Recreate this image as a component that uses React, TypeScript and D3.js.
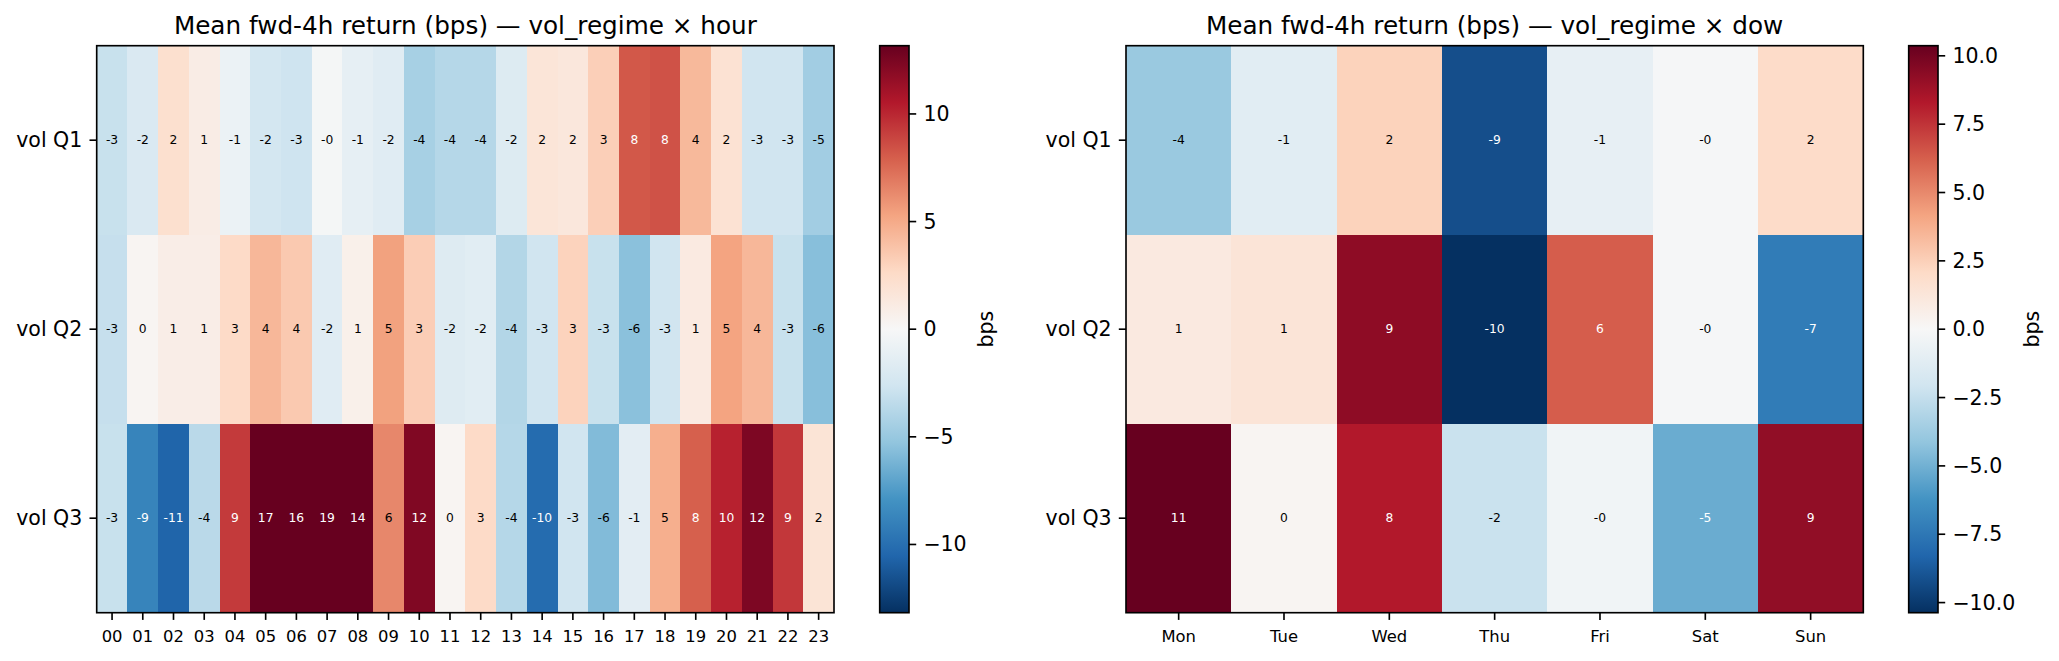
import React from 'react';
import * as d3 from 'd3';

// canvas
const W = 2059;
const H = 661;

// row / column categories
const regimes = ['vol Q1', 'vol Q2', 'vol Q3'];
const hours = ['00', '01', '02', '03', '04', '05', '06', '07', '08', '09', '10', '11',
  '12', '13', '14', '15', '16', '17', '18', '19', '20', '21', '22', '23'];
const days = ['Mon', 'Tue', 'Wed', 'Thu', 'Fri', 'Sat', 'Sun'];

// mean fwd-4h return (bps) by vol regime x hour of day
const hourQ1 = [-3.0, -2.0, 2.2, 1.0, -0.8, -2.4, -2.7, -0.2, -1.2, -1.6, -4.4, -3.8,
  -3.8, -1.8, 1.7, 1.5, 3.2, 8.2, 8.4, 4.3, 2.0, -2.6, -2.6, -4.6];
const hourQ2 = [-3.1, 0.3, 0.9, 0.9, 2.6, 4.4, 3.5, -1.6, 0.7, 5.4, 3.3, -1.7,
  -1.5, -3.9, -2.6, 3.0, -3.0, -5.5, -2.6, 1.2, 5.3, 4.4, -3.0, -5.6];
const hourQ3 = [-3.0, -8.8, -10.6, -3.6, 9.3, 16.8, 15.9, 18.9, 14.2, 6.4, 12.3, 0.3,
  2.6, -3.8, -10.2, -2.6, -5.8, -1.4, 4.8, 7.9, 10.2, 12.4, 9.4, 1.8];

// mean fwd-4h return (bps) by vol regime x day of week
const dowQ1 = [-3.9, -1.2, 2.4, -9.2, -0.9, -0.1, 2.0];
const dowQ2 = [1.0, 1.4, 9.3, -10.4, 6.3, -0.1, -7.3];
const dowQ3 = [10.9, 0.2, 8.3, -2.3, -0.4, -5.2, 9.2];

// symmetric colour limits and colorbar ticks
const hourLimit = 13.17;
const dowLimit = 10.37;
const hourTicks = [10, 5, 0, -5, -10];
const dowTicks = [10, 7.5, 5, 2.5, 0, -2.5, -5, -7.5, -10];

// RdBu_r anchors, low -> high
const rdbu = ['#053061', '#2166ac', '#4393c3', '#92c5de', '#d1e5f0', '#f7f7f7',
  '#fddbc7', '#f4a582', '#d6604d', '#b2182b', '#67001f'];

const FONT = 'DejaVu Sans, Verdana, sans-serif';
const LW = 1.64;
const TICK = 7.2;
const PAD = 7.2;

const minus = (s: string) => s.replace('-', '\u2212');

type Frame = { x0: number; x1: number; y0: number; y1: number };

function Panel(props: {
  id: string;
  title: string;
  cols: string[];
  values: number[][];
  limit: number;
  ticks: number[];
  tickFmt: (v: number) => string;
  frame: Frame;
  bar: { x0: number; x1: number };
  labelX: number;
}) {
  const { id, title, cols, values, limit, ticks, tickFmt, frame, bar, labelX } = props;

  const x = d3.scaleBand<string>().domain(cols).range([frame.x0, frame.x1]);
  const y = d3.scaleBand<string>().domain(regimes).range([frame.y0, frame.y1]);
  const color = d3.scaleLinear<string>()
    .domain(rdbu.map((_, i) => -limit + (i * 2 * limit) / (rdbu.length - 1)))
    .range(rdbu)
    .interpolate(d3.interpolateRgb)
    .clamp(true);
  const cb = d3.scaleLinear().domain([-limit, limit]).range([frame.y1, frame.y0]);

  return (
    <g>
      <defs>
        <linearGradient id={id} x1="0" y1="1" x2="0" y2="0">
          {rdbu.map((c, i) => (
            <stop key={i} offset={i / (rdbu.length - 1)} stopColor={c} />
          ))}
        </linearGradient>
      </defs>

      <text x={(frame.x0 + frame.x1) / 2} y={34} textAnchor="middle"
        fontFamily={FONT} fontSize={24.7} fill="#000">{title}</text>

      {/* cells */}
      {values.map((row, r) =>
        row.map((v, c) => {
          const cx = x(cols[c])!;
          const cy = y(regimes[r])!;
          return (
            <g key={`${r}-${c}`}>
              <rect x={cx} y={cy} width={x.bandwidth() + 0.4} height={y.bandwidth() + 0.4}
                fill={color(v)} shapeRendering="crispEdges" />
              <text x={cx + x.bandwidth() / 2} y={cy + y.bandwidth() / 2}
                textAnchor="middle" dominantBaseline="central"
                fontFamily={FONT} fontSize={12.3}
                fill={Math.abs(v) > limit * 0.5 ? '#fff' : '#000'}>
                {v.toFixed(0)}
              </text>
            </g>
          );
        })
      )}

      <rect x={frame.x0} y={frame.y0} width={frame.x1 - frame.x0} height={frame.y1 - frame.y0}
        fill="none" stroke="#000" strokeWidth={LW} />

      {/* y axis */}
      {regimes.map(r => {
        const cy = y(r)! + y.bandwidth() / 2;
        return (
          <g key={r}>
            <line x1={frame.x0} x2={frame.x0 - TICK} y1={cy} y2={cy} stroke="#000" strokeWidth={LW} />
            <text x={frame.x0 - TICK - PAD} y={cy} textAnchor="end" dominantBaseline="central"
              fontFamily={FONT} fontSize={20.5}>{r}</text>
          </g>
        );
      })}

      {/* x axis */}
      {cols.map(c => {
        const cx = x(c)! + x.bandwidth() / 2;
        return (
          <g key={c}>
            <line x1={cx} x2={cx} y1={frame.y1} y2={frame.y1 + TICK} stroke="#000" strokeWidth={LW} />
            <text x={cx} y={641.8} textAnchor="middle" fontFamily={FONT} fontSize={16.4}>{c}</text>
          </g>
        );
      })}

      {/* colorbar */}
      <rect x={bar.x0} y={frame.y0} width={bar.x1 - bar.x0} height={frame.y1 - frame.y0}
        fill={`url(#${id})`} stroke="#000" strokeWidth={LW} />
      {ticks.map(t => (
        <g key={t}>
          <line x1={bar.x1} x2={bar.x1 + TICK} y1={cb(t)} y2={cb(t)} stroke="#000" strokeWidth={LW} />
          <text x={bar.x1 + TICK + PAD} y={cb(t)} dominantBaseline="central"
            fontFamily={FONT} fontSize={20.5}>{minus(tickFmt(t))}</text>
        </g>
      ))}
      <text transform={`translate(${labelX},${(frame.y0 + frame.y1) / 2}) rotate(-90)`}
        textAnchor="middle" fontFamily={FONT} fontSize={20.5}>bps</text>
    </g>
  );
}

export default function App() {
  return (
    <svg width={W} height={H} style={{ position: 'absolute', left: 0, top: 0, background: '#fff' }}>
      <rect width={W} height={H} fill="#fff" />
      <Panel
        id="cb-hour"
        title={'Mean fwd-4h return (bps) \u2014 vol_regime \u00d7 hour'}
        cols={hours}
        values={[hourQ1, hourQ2, hourQ3]}
        limit={hourLimit}
        ticks={hourTicks}
        tickFmt={d3.format('.0f')}
        frame={{ x0: 96.7, x1: 834, y0: 45.7, y1: 612.7 }}
        bar={{ x0: 879.7, x1: 909 }}
        labelX={993}
      />
      <Panel
        id="cb-dow"
        title={'Mean fwd-4h return (bps) \u2014 vol_regime \u00d7 dow'}
        cols={days}
        values={[dowQ1, dowQ2, dowQ3]}
        limit={dowLimit}
        ticks={dowTicks}
        tickFmt={d3.format('.1f')}
        frame={{ x0: 1126, x1: 1863.3, y0: 45.7, y1: 612.7 }}
        bar={{ x0: 1908.7, x1: 1938 }}
        labelX={2038.5}
      />
    </svg>
  );
}
